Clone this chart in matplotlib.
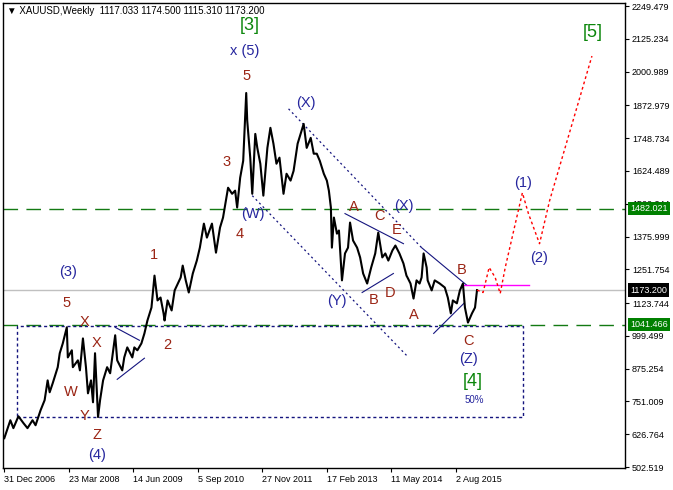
import matplotlib
matplotlib.use('Agg')
import matplotlib.pyplot as plt
import matplotlib.transforms as mtransforms

# weekly XAUUSD, x in weeks since 31 Dec 2006, prices
weeks = [0, 6, 9, 14, 19, 23, 28, 31, 36, 40, 43, 45, 48, 53, 55, 58, 62, 63, 67, 68,
         73, 75, 78, 81, 83, 86, 88, 90, 93, 95, 98, 102, 105, 110, 112, 117, 119, 122, 127, 129,
         132, 136, 139, 142, 146, 149, 152, 155, 158, 159, 162, 166, 169, 175, 177, 180, 183, 187, 191, 194,
         198, 201, 206, 210, 214, 217, 222, 226, 229, 231, 234, 237, 240, 241, 244, 246, 249, 251, 254, 257,
         261, 264, 267, 270, 273, 277, 280, 284, 287, 291, 297, 300, 304, 307, 310, 313, 317, 320, 322, 324,
         325, 327, 330, 332, 335, 338, 341, 343, 346, 350, 353, 356, 360, 364, 368, 371, 375, 378, 381, 385,
         388, 392, 396, 399, 400, 403, 406, 409, 412, 414, 416, 419, 420, 424, 427, 432, 437, 440, 443, 445,
         449, 452, 455, 457, 460, 464, 467, 469]
prices = [612, 680, 650, 695, 669, 650, 680, 661, 718, 756, 831, 786, 820, 881, 934, 971, 1032, 918, 945, 881,
          907, 869, 990, 881, 782, 831, 748, 934, 692, 756, 831, 881, 858, 1002, 907, 869, 918, 956, 918, 956,
          945, 971, 1009, 1058, 1107, 1228, 1134, 1145, 1085, 1058, 1134, 1096, 1172, 1221, 1266, 1210, 1164, 1236, 1285, 1334,
          1425, 1372, 1425, 1315, 1410, 1448, 1561, 1538, 1550, 1486, 1599, 1663, 1920, 1815, 1675, 1538, 1765, 1712, 1652, 1531,
          1712, 1788, 1728, 1652, 1675, 1538, 1614, 1588, 1625, 1728, 1803, 1712, 1750, 1690, 1690, 1663, 1614, 1588, 1550, 1486,
          1334, 1448, 1387, 1399, 1210, 1312, 1334, 1429, 1361, 1334, 1297, 1236, 1198, 1259, 1312, 1391, 1297, 1312, 1285, 1323,
          1342, 1312, 1274, 1228, 1221, 1198, 1141, 1210, 1198, 1221, 1312, 1259, 1210, 1172, 1210, 1198, 1183, 1145, 1085, 1134,
          1123, 1172, 1198, 1107, 1050, 1085, 1107, 1173.2]

# forecast path (red dotted)
fc_weeks = [469, 475, 481, 487, 492, 497, 514, 520, 531, 541, 583]
fc_prices = [1173, 1164, 1259, 1221, 1160, 1259, 1542, 1463, 1349, 1512, 2060]

level_hi = 1482.021
level_lo = 1041.466
last_price = 1173.2

ytick_vals = [2249.479, 2125.234, 2000.989, 1872.979, 1748.734, 1624.489, 1500.244, 1375.999,
              1251.754, 1123.744, 999.499, 875.254, 751.009, 626.764, 502.519]
xtick_weeks = [0, 64, 128, 192, 256, 320, 384, 448]
xtick_labels = ['31 Dec 2006', '23 Mar 2008', '14 Jun 2009', '5 Sep 2010',
                '27 Nov 2011', '17 Feb 2013', '11 May 2014', '2 Aug 2015']

# dotted navy channel lines and solid wedge lines: (w0, p0, w1, p1)
dotted_lines = [(282, 1860, 414, 1334), (246, 1531, 400, 922)]
solid_lines = [(414, 1334, 459, 1191), (338, 1463, 396, 1349), (355, 1164, 386, 1236),
               (426, 1009, 456, 1123), (110, 1032, 134, 983), (112, 835, 139, 915)]
box_w = (13, 515)
box_p = (692, 1036)
magenta = (454, 521, 1194)

# wave labels: text, week, price, kind
labels = [
    ('[3]', 244, 2174, 'g'), ('x (5)', 238, 2079, 'b'), ('5', 240, 1985, 'r'),
    ('3', 220, 1660, 'r'), ('4', 234, 1387, 'r'), ('(W)', 247, 1463, 'b'),
    ('(X)', 299, 1883, 'b'), ('A', 347, 1489, 'r'), ('C', 372, 1455, 'r'),
    ('E', 389, 1402, 'r'), ('(X)', 396, 1493, 'b'), ('(Y)', 330, 1130, 'b'),
    ('B', 366, 1134, 'r'), ('D', 383, 1164, 'r'), ('A', 406, 1077, 'r'),
    ('B', 454, 1251, 'r'), ('C', 461, 979, 'r'), ('(Z)', 461, 911, 'b'),
    ('[4]', 465, 828, 'g'), ('(1)', 515, 1580, 'b'), ('(2)', 531, 1293, 'b'),
    ('[5]', 584, 2151, 'g'), ('(3)', 63, 1240, 'b'), ('5', 62, 1123, 'r'),
    ('X', 80, 1051, 'r'), ('X', 92, 971, 'r'), ('W', 66, 786, 'r'),
    ('Y', 80, 695, 'r'), ('Z', 92, 624, 'r'), ('(4)', 92, 548, 'b'),
    ('1', 148, 1308, 'r'), ('2', 162, 964, 'r'),
]
colors = {'r': '#9a2414', 'b': '#26269e', 'g': '#0b860b'}
sizes = {'r': 10.5, 'b': 10.5, 'g': 13}

fig = plt.figure(figsize=(6.73, 4.9), dpi=100)
ax = fig.add_axes([3 / 673, 1 - 468 / 490, 622 / 673, 465 / 490])
ax.set_xlim(-1.3, 615.8)
ax.set_ylim(499, 2261)

navy = '#14147e'
ax.axhline(level_hi, color='#137a13', lw=1.0, dashes=(10.5, 6), zorder=1)
ax.axhline(level_lo, color='#137a13', lw=1.0, dashes=(10.5, 6), zorder=1)
ax.axhline(last_price, color='#c0c0c0', lw=1.0, zorder=1)

ax.plot([box_w[0], box_w[1], box_w[1], box_w[0], box_w[0]],
        [box_p[0], box_p[0], box_p[1], box_p[1], box_p[0]],
        color=navy, lw=1.0, linestyle=(0, (2.2, 2)), zorder=2)
for w0, p0, w1, p1 in dotted_lines:
    ax.plot([w0, w1], [p0, p1], color=navy, lw=0.9, linestyle=(0, (1.6, 2.4)), zorder=2)
for w0, p0, w1, p1 in solid_lines:
    ax.plot([w0, w1], [p0, p1], color=navy, lw=0.8, zorder=2)
ax.plot([magenta[0], magenta[1]], [magenta[2], magenta[2]], color='#ff00ff', lw=1.0, zorder=2)

ax.plot(weeks, prices, color='black', lw=1.5, zorder=3)
ax.plot(fc_weeks, fc_prices, color='red', lw=1.0, linestyle=(0, (2, 2)), zorder=3)

for txt, w, p, k in labels:
    ax.text(w, p, txt, color=colors[k], fontsize=sizes[k], family='Liberation Sans',
            ha='center', va='center', zorder=4)
ax.text(466, 756, '50%', color=colors['b'], fontsize=7, family='Liberation Sans',
        ha='center', va='center', zorder=4)

ax.yaxis.tick_right()
ax.set_yticks(ytick_vals)
ax.set_yticklabels([f'{v:.3f}' for v in ytick_vals])
ax.set_xticks(xtick_weeks)
ax.set_xticklabels(xtick_labels, ha='left')
ax.tick_params(axis='both', labelsize=6.5, length=3, width=0.8, color='black', pad=2)
for lab in ax.get_xticklabels() + ax.get_yticklabels():
    lab.set_family('Liberation Sans')
for s in ax.spines.values():
    s.set_linewidth(1.0)

trans = mtransforms.blended_transform_factory(ax.transAxes, ax.transData)
for val, bg in [(level_hi, '#008000'), (level_lo, '#008000'), (last_price, 'black')]:
    ax.text(1.008, val, f'{val:.3f}', transform=trans, color='white', fontsize=6.5,
            family='Liberation Sans', ha='left', va='center', clip_on=False, zorder=5,
            bbox=dict(facecolor=bg, edgecolor='none', pad=1.5))

fig.text(7 / 673, 1 - 11 / 490, '\u25bc XAUUSD,Weekly  1117.033 1174.500 1115.310 1173.200',
         fontsize=7, family=['Liberation Sans', 'DejaVu Sans'], va='center', ha='left')

fig.savefig('out.png', dpi=100)
